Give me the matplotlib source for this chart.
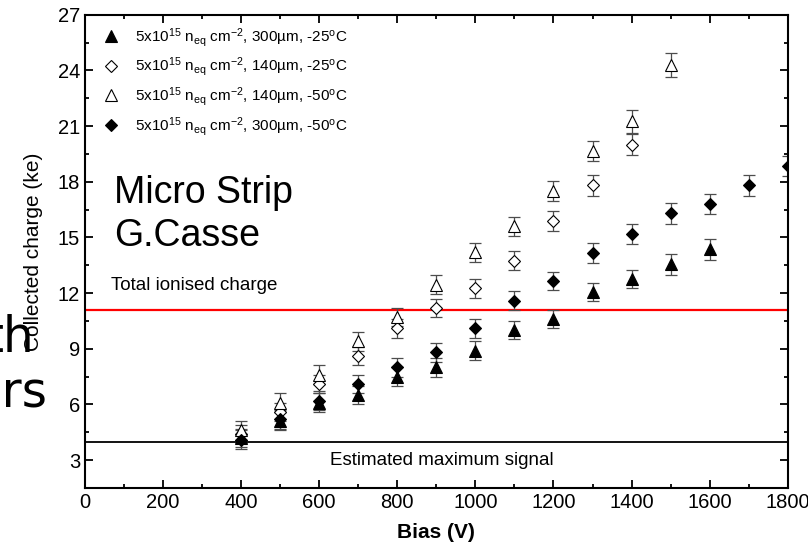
import matplotlib
matplotlib.use('Agg')
import matplotlib.pyplot as plt
from matplotlib.ticker import MultipleLocator

plt.rcParams['font.family'] = 'Liberation Sans'
plt.rcParams['mathtext.fontset'] = 'custom'
plt.rcParams['mathtext.rm'] = 'Liberation Sans'
plt.rcParams['mathtext.it'] = 'Liberation Sans:italic'

# Collected charge (ke) vs bias (V)
bias_a = [400, 500, 600, 700, 800, 900, 1000, 1100, 1200, 1300, 1400, 1500, 1600]
q_a = [4.2, 5.1, 6.1, 6.5, 7.5, 8.0, 8.9, 10.0, 10.6, 12.05, 12.75, 13.55, 14.35]
err_a = [0.5, 0.5, 0.5, 0.5, 0.5, 0.5, 0.5, 0.5, 0.5, 0.5, 0.5, 0.55, 0.55]

bias_b = [400, 500, 600, 700, 800, 900, 1000, 1100, 1200, 1300, 1400]
q_b = [4.4, 5.6, 7.1, 8.6, 10.1, 11.2, 12.25, 13.75, 15.9, 17.8, 20.0]
err_b = [0.5, 0.5, 0.5, 0.5, 0.5, 0.5, 0.5, 0.5, 0.55, 0.55, 0.55]

bias_c = [400, 500, 600, 700, 800, 900, 1000, 1100, 1200, 1300, 1400, 1500]
q_c = [4.6, 6.1, 7.6, 9.4, 10.7, 12.45, 14.2, 15.6, 17.5, 19.65, 21.25, 24.3]
err_c = [0.5, 0.5, 0.5, 0.5, 0.5, 0.5, 0.5, 0.5, 0.55, 0.55, 0.6, 0.65]

bias_d = [400, 500, 600, 700, 800, 900, 1000, 1100, 1200, 1300, 1400, 1500, 1600, 1700, 1800]
q_d = [4.1, 5.2, 6.2, 7.1, 8.0, 8.8, 10.1, 11.6, 12.65, 14.15, 15.2, 16.3, 16.8, 17.8, 18.85]
err_d = [0.5, 0.5, 0.5, 0.5, 0.5, 0.5, 0.5, 0.5, 0.5, 0.55, 0.55, 0.55, 0.55, 0.55, 0.55]

labels = [
    r'5x10$^{15}$ n$_{\rm eq}$ cm$^{-2}$, 300µm, -25$^{\rm o}$C',
    r'5x10$^{15}$ n$_{\rm eq}$ cm$^{-2}$, 140µm, -25$^{\rm o}$C',
    r'5x10$^{15}$ n$_{\rm eq}$ cm$^{-2}$, 140µm, -50$^{\rm o}$C',
    r'5x10$^{15}$ n$_{\rm eq}$ cm$^{-2}$, 300µm, -50$^{\rm o}$C',
]

total_ionised = 11.07
max_signal = 4.0

fig = plt.figure(figsize=(8.08, 5.47), dpi=100)
ax = fig.add_axes([0.105, 0.108, 0.870, 0.865])

# cut-off slide text behind the axis label
fig.text(35 / 808, 1 - 352 / 547, 'th', family='DejaVu Sans', fontsize=35,
         ha='right', va='baseline')
fig.text(47 / 808, 1 - 408 / 547, 'ors', family='DejaVu Sans', fontsize=35,
         ha='right', va='baseline')

series = [
    (bias_a, q_a, err_a, '^', 'black'),
    (bias_b, q_b, err_b, 'D', 'white'),
    (bias_c, q_c, err_c, '^', 'white'),
    (bias_d, q_d, err_d, 'D', 'black'),
]

for (x, y, e, m, fc), lab in zip(series, labels):
    ax.errorbar(x, y, yerr=e, fmt='none', ecolor='0.3', elinewidth=0.9,
                capsize=4, capthick=0.9, zorder=2)
    ms = 8 if m == '^' else 6.5
    ax.plot(x, y, ls='none', marker=m, ms=ms, mfc=fc, mec='black', mew=0.8,
            label=lab, zorder=3)

ax.axhline(total_ionised, color='#ff0000', lw=1.6, zorder=1)
ax.axhline(max_signal, color='black', lw=1.3, zorder=1)

ax.text(67, 12.4, 'Total ionised charge', fontsize=13.5, va='center', ha='left')
ax.text(913, 3.0, 'Estimated maximum signal', fontsize=13.5, va='center', ha='center')
ax.text(74, 16.88, 'Micro Strip', fontsize=27, va='baseline', ha='left')
ax.text(74, 14.53, 'G.Casse', fontsize=27, va='baseline', ha='left')

ax.set_xlim(0, 1800)
ax.set_ylim(1.5, 27)
ax.xaxis.set_major_locator(MultipleLocator(200))
ax.xaxis.set_minor_locator(MultipleLocator(100))
ax.yaxis.set_minor_locator(MultipleLocator(1.5))
ax.set_yticks([3, 6, 9, 12, 15, 18, 21, 24, 27])
ax.tick_params(which='both', direction='in', top=True, right=True, labelsize=14.5,
               width=1.3, colors='black')
ax.tick_params(which='major', length=6)
ax.tick_params(which='minor', length=3)
for s in ax.spines.values():
    s.set_linewidth(1.5)

ax.set_xlabel('Bias (V)', fontsize=15, fontweight='bold', labelpad=8)
ax.set_ylabel('Collected charge (ke)', fontsize=15)
ax.yaxis.set_label_coords(-0.06, 0.5)

ax.legend(loc='upper left', frameon=False, fontsize=11, handletextpad=0.95,
          labelspacing=0.45, borderaxespad=0.0, handlelength=1.2,
          bbox_to_anchor=(0.016, 0.99))

fig.savefig('out.png', dpi=100)
